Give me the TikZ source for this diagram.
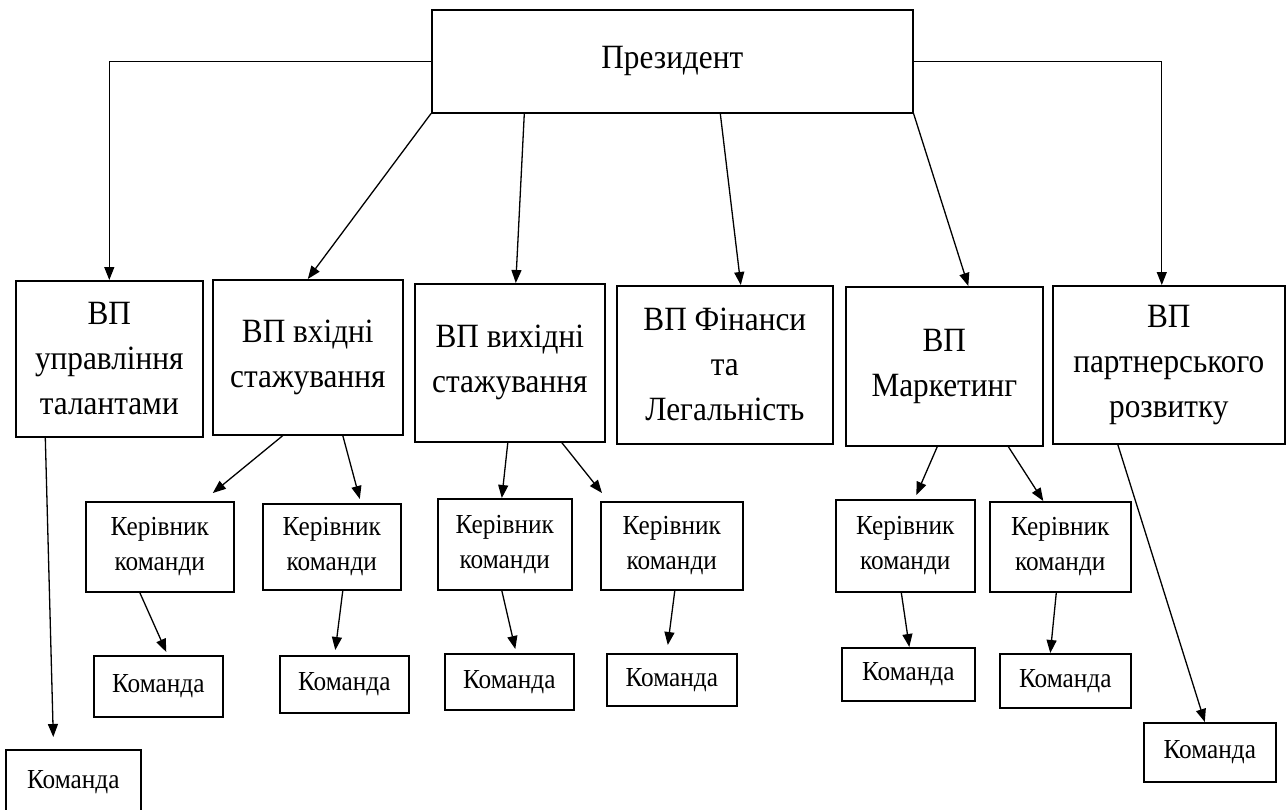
\documentclass[tikz,border=0pt]{standalone}
\usepackage{fontspec}
\setmainfont{Liberation Serif}[FakeStretch=0.92]
\usetikzlibrary{arrows.meta}

\begin{document}
\begin{tikzpicture}[x=1pt,y=-1pt,
        vp/.style={anchor=north west,draw,line width=1.6pt,align=center,font={\fontsize{34}{45}\selectfont}},
        lead/.style={anchor=north west,draw,line width=1.6pt,align=center,font={\fontsize{27.5}{35}\selectfont}},
        link/.style={line width=1.3pt,-{Triangle[length=13pt,width=10pt]}}]
                \useasboundingbox (0,0) rectangle (1288,809);
                \clip (0,0) rectangle (1288,809);

                \node[vp,minimum width=481pt,minimum height=103pt] (president) at (431,9) {Президент};

                \node[vp,minimum width=187pt,minimum height=156pt] (talent) at (15,280) {ВП\\управління\\талантами};
                \node[vp,minimum width=190pt,minimum height=155pt] (incoming) at (212,279) {ВП вхідні\\стажування};
                \node[vp,minimum width=190pt,minimum height=158pt] (outgoing) at (414,283) {ВП вихідні\\стажування};
                \node[vp,minimum width=216pt,minimum height=158pt] (finance) at (616,285) {ВП Фінанси\\та\\Легальність};
                \node[vp,minimum width=197pt,minimum height=159pt] (marketing) at (845,286) {ВП\\Маркетинг};
                \node[vp,minimum width=232pt,minimum height=158pt] (partner) at (1052,285) {ВП\\партнерського\\розвитку};

                \node[lead,minimum width=148pt,minimum height=90pt] (leadA) at (85,501) {Керівник\\команди};
                \node[lead,minimum width=138pt,minimum height=86pt] (leadB) at (262,503) {Керівник\\команди};
                \node[lead,minimum width=134pt,minimum height=91pt] (leadC) at (437,498) {Керівник\\команди};
                \node[lead,minimum width=142pt,minimum height=88pt] (leadD) at (600,501) {Керівник\\команди};
                \node[lead,minimum width=139pt,minimum height=92pt] (leadE) at (835,499) {Керівник\\команди};
                \node[lead,minimum width=141pt,minimum height=90pt] (leadF) at (989,501) {Керівник\\команди};

                \node[lead,minimum width=135pt,minimum height=64pt] (teamT) at (5,749) {Команда};
                \node[lead,minimum width=129pt,minimum height=61pt] (teamA) at (93,655) {Команда};
                \node[lead,minimum width=129pt,minimum height=57pt] (teamB) at (279,655) {Команда};
                \node[lead,minimum width=129pt,minimum height=56pt] (teamC) at (444,653) {Команда};
                \node[lead,minimum width=130pt,minimum height=52pt] (teamD) at (606,653) {Команда};
                \node[lead,minimum width=133pt,minimum height=53pt] (teamE) at (841,647) {Команда};
                \node[lead,minimum width=131pt,minimum height=54pt] (teamF) at (999,653) {Команда};
                \node[lead,minimum width=132pt,minimum height=59pt] (teamP) at (1143,722) {Команда};

                \draw[link] (president.west) -| (talent.north);
                \draw[link] (president.east) -| ([xshift=-7pt]partner.north);
                \draw[link] (president.south west) -- (incoming.north);
                \draw[link] ([xshift=-148pt]president.south) -- ([xshift=6pt]outgoing.north);
                \draw[link] ([xshift=48pt]president.south) -- ([xshift=16pt]finance.north);
                \draw[link] (president.south east) -- ([xshift=24pt]marketing.north);

                \draw[link] ([xshift=-64pt]talent.south) -- ([xshift=-20pt,yshift=12pt]teamT.north);
                \draw[link] ([xshift=-25pt]incoming.south) -- ([xshift=53pt,yshift=8pt]leadA.north);
                \draw[link] ([xshift=35pt]incoming.south) -- ([xshift=28pt,yshift=4pt]leadB.north);
                \draw[link] ([xshift=-2pt]outgoing.south) -- ([xshift=-3pt]leadC.north);
                \draw[link] ([xshift=52pt]outgoing.south) -- ([xshift=2pt,yshift=8pt]leadD.north west);
                \draw[link] ([xshift=-7pt]marketing.south) -- ([xshift=11pt,yshift=4pt]leadE.north);
                \draw[link] ([xshift=64pt]marketing.south) -- ([xshift=-17pt]leadF.north);
                \draw[link] ([xshift=-51pt]partner.south) -- ([xshift=-5pt]teamP.north);

                \draw[link] ([xshift=-20pt]leadA.south) -- ([xshift=8pt,yshift=3pt]teamA.north);
                \draw[link] ([xshift=11pt]leadB.south) -- ([xshift=-9pt,yshift=5pt]teamB.north);
                \draw[link] ([xshift=-3pt]leadC.south) -- ([xshift=6pt,yshift=4pt]teamC.north);
                \draw[link] ([xshift=3pt]leadD.south) -- ([xshift=-4pt,yshift=8pt]teamD.north);
                \draw[link] ([xshift=-4pt]leadE.south) -- ([xshift=1pt]teamE.north);
                \draw[link] ([xshift=-4pt]leadF.south) -- ([xshift=-15pt]teamF.north);
            \end{tikzpicture}
\end{document}
